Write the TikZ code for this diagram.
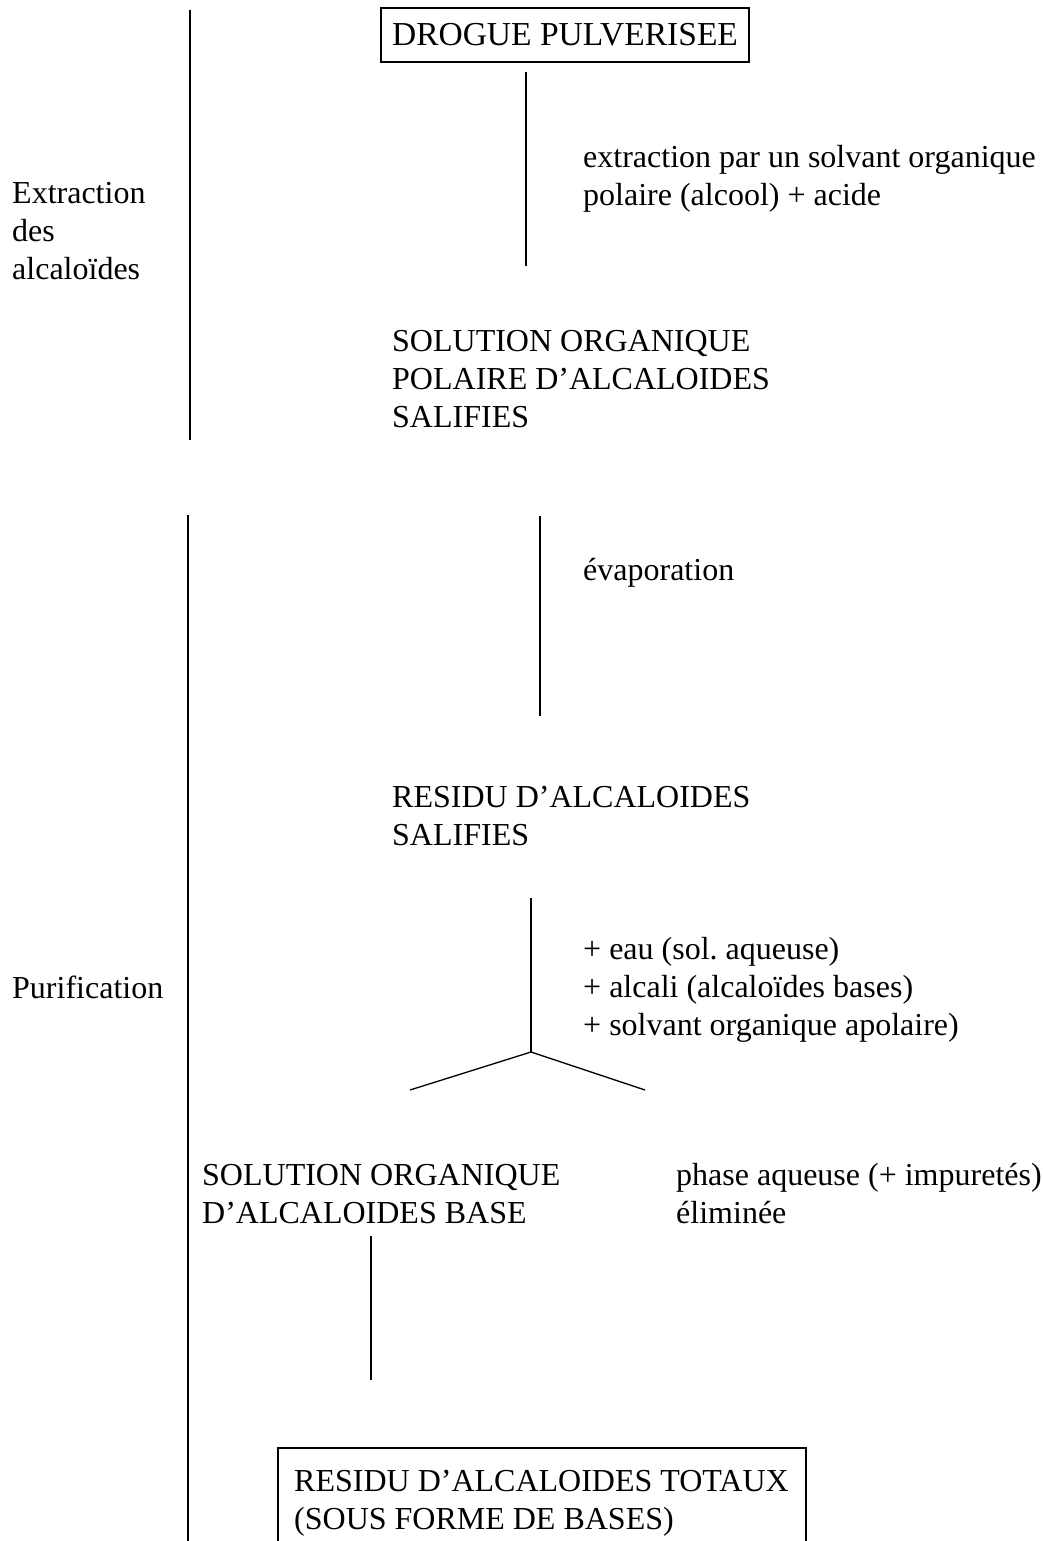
\documentclass[tikz,border=0pt]{standalone}
\usepackage{fontspec}
\setmainfont{Liberation Serif}
\frenchspacing
\begin{document}
\begin{tikzpicture}[x=1pt,y=-1pt,
  txt/.style={font=\fontsize{32}{38}\selectfont, inner sep=0pt, align=left, anchor=base west},
  boxed/.style={draw, line width=1.2pt},
  ln/.style={line width=1.3pt}]
\useasboundingbox (0,0) rectangle (1043,1541);
\clip (0,0) rectangle (1043,1541);
% side bars
\coordinate (b1t) at (190,10);
\coordinate (b1b) at (190,440);
\coordinate (b2t) at (188,515);
\coordinate (b2b) at (188,1560);
\draw[ln] (b1t) -- (b1b);
\draw[ln] (b2t) -- (b2b);
\node[txt] (extr) at (12,279) {Extraction\\des\\alcaloïdes};
\node[txt] (purif) at (12,998) {Purification};
% top box
\node[boxed, font=\fontsize{33.5}{38}\selectfont, minimum width=368, minimum height=54, inner sep=0pt] (drogue) at (565,35) {DROGUE PULVERISEE};
\coordinate (l1t) at (526,72);
\coordinate (l1b) at (526,266);
\draw[ln] (l1t) -- (l1b);
\node[txt] (ext) at (583,205) {extraction par un solvant organique\\polaire (alcool) + acide};
\node[txt] (sol1) at (392,427) {SOLUTION ORGANIQUE\\POLAIRE D’ALCALOIDES\\SALIFIES};
% evaporation
\coordinate (l2t) at (540,516);
\coordinate (l2b) at (540,716);
\draw[ln] (l2t) -- (l2b);
\node[txt] (evap) at (583,580) {évaporation};
\node[txt] (res1) at (392,845) {RESIDU D’ALCALOIDES\\SALIFIES};
% fork
\coordinate (l3t) at (531,898);
\coordinate (fork) at (531,1052);
\coordinate (forkL) at (410,1090);
\coordinate (forkR) at (645,1090);
\draw[ln] (l3t) -- (fork);
\draw[ln] (forkL) -- (fork) -- (forkR);
\node[txt] (add) at (583,1035) {+ eau (sol. aqueuse)\\+ alcali (alcaloïdes bases)\\+ solvant organique apolaire)};
\node[txt] (sol2) at (202,1223) {SOLUTION ORGANIQUE\\D’ALCALOIDES BASE};
\node[txt] (phase) at (676,1223) {phase aqueuse (+ impuretés)\\éliminée};
\coordinate (l4t) at (371,1236);
\coordinate (l4b) at (371,1380);
\draw[ln] (l4t) -- (l4b);
% bottom box
\coordinate (rbA) at (278,1448);
\coordinate (rbB) at (806,1580);
\draw[boxed] (rbA) rectangle (rbB);
\node[txt] (res2) at (294,1529) {RESIDU D’ALCALOIDES TOTAUX\\(SOUS FORME DE BASES)};
\end{tikzpicture}
\end{document}
